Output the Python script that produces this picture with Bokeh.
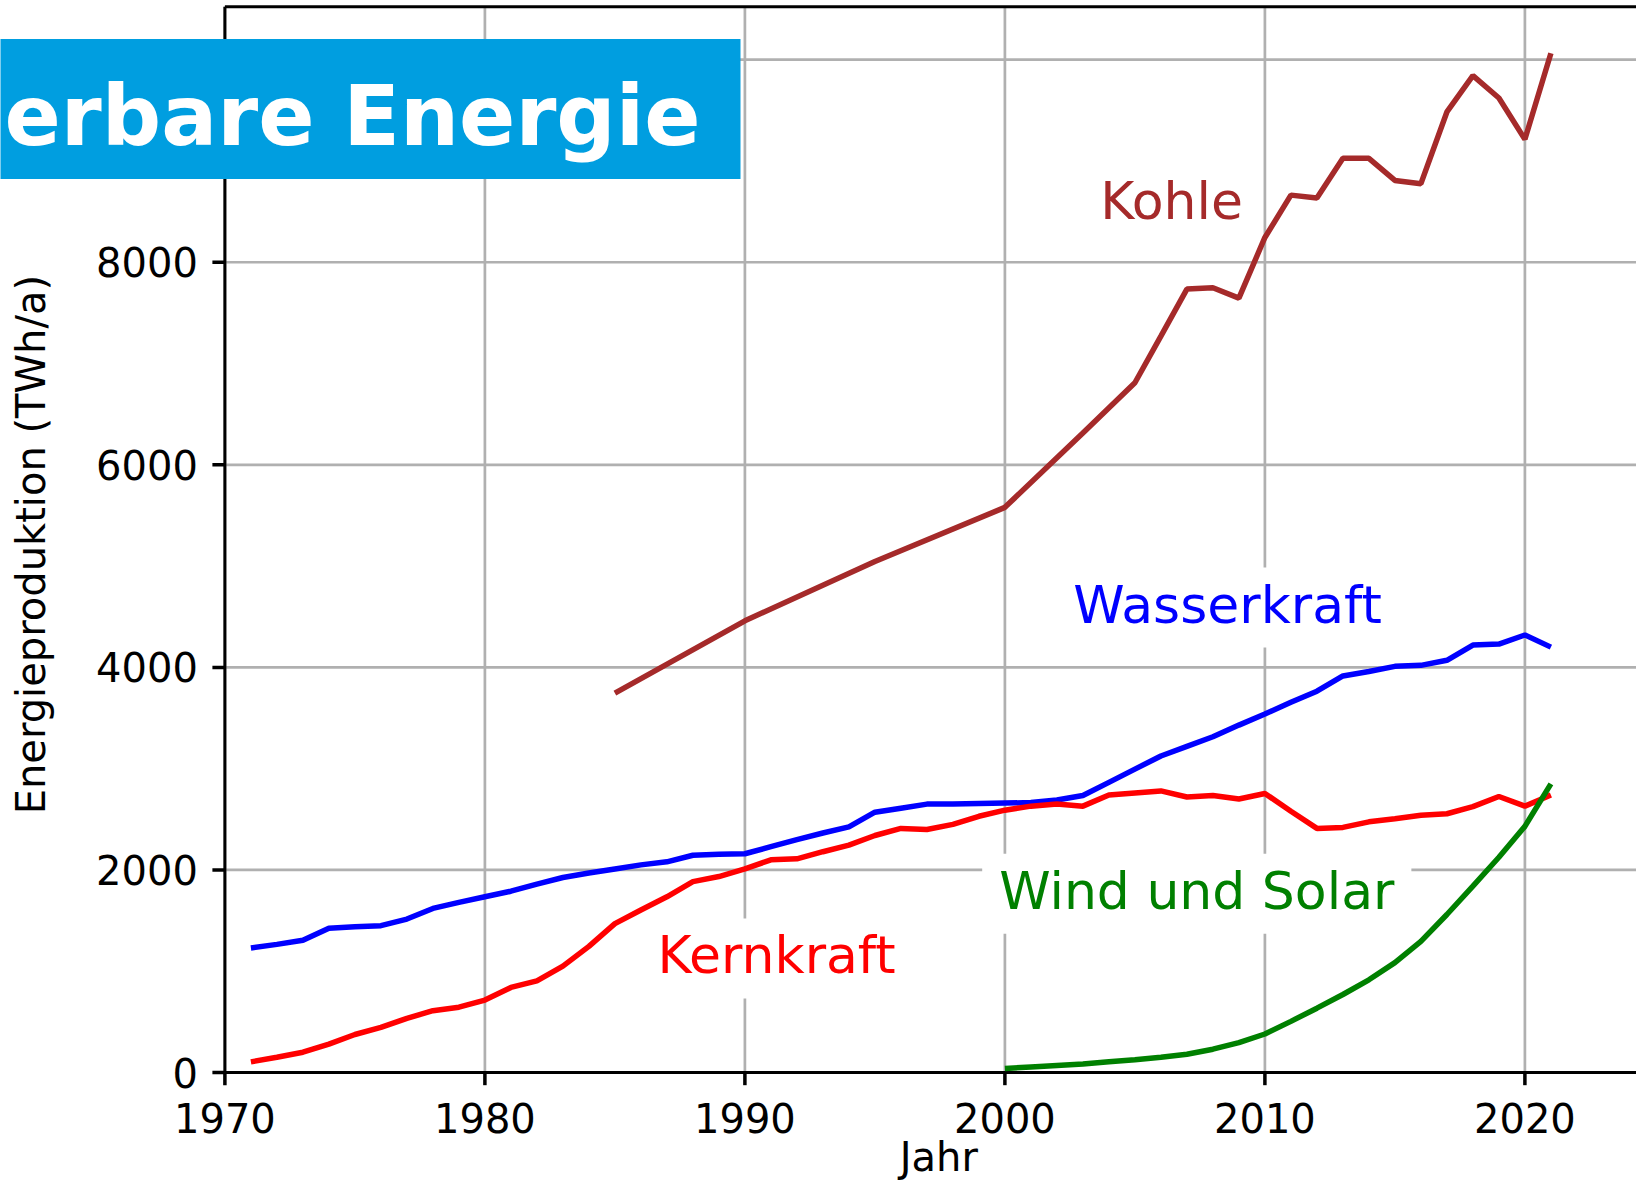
import math
from bokeh.plotting import figure
from bokeh.models import Range1d, Label
from bokeh.core.properties import value
from bokeh.embed import file_html
from bokeh.resources import INLINE

# ---------------- data (TWh/a) ----------------
kohle_years = [1985, 1990, 1995, 2000, 2003, 2005, 2006, 2007, 2008, 2009, 2010,
               2011, 2012, 2013, 2014, 2015, 2016, 2017, 2018, 2019, 2020, 2021]
kohle_twh = [3745, 4460, 5045, 5580, 6315, 6810, 7270, 7735, 7748, 7646, 8245,
             8663, 8634, 9026, 9026, 8808, 8776, 9484, 9842, 9622, 9214, 10063]

years = list(range(1971, 2022))
wasser_twh = [1230, 1265, 1305, 1425, 1440, 1450, 1515, 1620, 1680, 1735,
              1790, 1860, 1925, 1970, 2010, 2050, 2080, 2145, 2155, 2160,
              2230, 2300, 2365, 2425, 2570, 2610, 2650, 2650, 2655, 2660,
              2665, 2690, 2735, 2865, 2995, 3125, 3220, 3315, 3430, 3540,
              3655, 3765, 3915, 3960, 4010, 4020, 4070, 4220, 4230, 4320,
              4200]
kern_twh = [105, 150, 200, 280, 375, 445, 535, 610, 645, 715,
            840, 905, 1050, 1245, 1470, 1605, 1735, 1885, 1935, 2010,
            2100, 2110, 2180, 2245, 2340, 2410, 2400, 2450, 2530, 2590,
            2630, 2650, 2630, 2740, 2760, 2780, 2720, 2735, 2700, 2755,
            2580, 2410, 2420, 2475, 2505, 2540, 2555, 2625, 2725, 2630,
            2740]

ws_years = list(range(2000, 2022))
ws_twh = [40, 55, 70, 85, 105, 125, 150, 180, 230, 295, 380,
          505, 635, 770, 915, 1085, 1295, 1560, 1840, 2125, 2430, 2850]

x_ticks = [1970, 1980, 1990, 2000, 2010, 2020]
x_tick_labels = [str(v) for v in x_ticks]
y_ticks = [0, 2000, 4000, 6000, 8000, 10000]
y_tick_labels = [str(v) for v in y_ticks]
x_label = "Jahr"
y_label = "Energieproduktion (TWh/a)"

# series labels: (text, x, y, color)
series_labels = [
    ("Kohle", 2006.41, 8578, "#a52a2a"),
    ("Wasserkraft", 2008.56, 4590, "#0000ff"),
    ("Wind und Solar", 2007.38, 1765, "#008000"),
    ("Kernkraft", 1991.22, 1126, "#ff0000"),
]
banner_text = "erbare Energie"

# ---------------- geometry (pixels -> data) ----------------
W, H = 1636, 1180
PX_PER_YEAR = 26.0
PX_PER_TWH = 202.56 / 2000.0
SPINE_X_PX = 224.4       # left spine, from canvas left
ZERO_Y_PX = 1072.0       # x axis, from canvas top
TOP_Y_PX = 6.3           # top spine, from canvas top

x_start = 1970 - SPINE_X_PX / PX_PER_YEAR
x_end = x_start + W / PX_PER_YEAR
y_start = -(H - ZERO_Y_PX) / PX_PER_TWH
y_end = ZERO_Y_PX / PX_PER_TWH
y_top = (ZERO_Y_PX - TOP_Y_PX) / PX_PER_TWH

def px_x(px):   # horizontal pixel distance -> years
    return px / PX_PER_YEAR

def px_y(px):   # vertical pixel distance -> TWh
    return px / PX_PER_TWH

FONT = "DejaVu Sans"
AX_FS = "40px"
GRID_C = "#b0b0b0"

p = figure(width=W, height=H, output_backend="svg", toolbar_location=None,
           x_range=Range1d(x_start, x_end), y_range=Range1d(y_start, y_end),
           x_axis_type=None, y_axis_type=None,
           min_border_left=0, min_border_right=0,
           min_border_top=0, min_border_bottom=0)
p.outline_line_color = None
p.background_fill_color = "white"
p.border_fill_color = "white"

nx, ny = len(x_ticks), len(y_ticks)

# grid lines
p.segment(x0=[1970] * ny, y0=y_ticks, x1=[x_end] * ny, y1=y_ticks,
          line_color=GRID_C, line_width=2.7, level="image")
p.segment(x0=x_ticks, y0=[0] * nx, x1=x_ticks, y1=[y_top] * nx,
          line_color=GRID_C, line_width=2.7, level="image")

# spines
p.segment(x0=[1970, 1970, 1970], y0=[0, 0, y_top],
          x1=[1970, x_end, x_end], y1=[y_top, 0, y_top],
          line_color="black", line_width=3)

# ticks
p.segment(x0=[1970 - px_x(12.5)] * ny, y0=y_ticks, x1=[1970] * ny, y1=y_ticks,
          line_color="black", line_width=3.5)
p.segment(x0=x_ticks, y0=[0] * nx, x1=x_ticks, y1=[-px_y(12.7)] * nx,
          line_color="black", line_width=3.5)

# tick labels
p.text(x=[1970] * ny, y=y_ticks, text=y_tick_labels, x_offset=-27,
       text_align="right", text_baseline="middle", text_color="black",
       text_font=value(FONT), text_font_size=AX_FS)
p.text(x=x_ticks, y=[-px_y(45.3)] * nx, text=x_tick_labels,
       text_align="center", text_baseline="middle", text_color="black",
       text_font=value(FONT), text_font_size=AX_FS)

# axis labels
p.text(x=[1970 + px_x(938.3 - SPINE_X_PX)], y=[-px_y(1156 - ZERO_Y_PX)], text=[x_label],
       text_align="center", text_baseline="middle", text_color="black",
       text_font=value(FONT), text_font_size=AX_FS)
p.text(x=[1970], y=[5212], text=[y_label], x_offset=-193.5, angle=math.pi / 2,
       text_align="center", text_baseline="middle", text_color="black",
       text_font=value(FONT), text_font_size=AX_FS)

# data
LW = 5.5
p.line(kohle_years, kohle_twh, line_color="#a52a2a", line_width=LW)
p.line(years, wasser_twh, line_color="#0000ff", line_width=LW)
p.line(years, kern_twh, line_color="#ff0000", line_width=LW)
p.line(ws_years, ws_twh, line_color="#008000", line_width=LW)

for txt, lx, ly, col in series_labels:
    p.add_layout(Label(x=lx, y=ly, text=txt, text_color=col,
                       text_font=FONT, text_font_size="52px",
                       text_align="center", text_baseline="middle",
                       background_fill_color="white", level="underlay",
                       padding=dict(left=17, right=17, top=7, bottom=13)))

# banner (title cut at the left edge of the picture)
p.add_layout(Label(x=1970 + px_x(740 - SPINE_X_PX), y=(ZERO_Y_PX - 108.5) / PX_PER_TWH,
                   text=banner_text, text_color="white",
                   text_font=FONT, text_font_style="bold", text_font_size="83px",
                   text_align="right", text_baseline="middle",
                   background_fill_color="#009ee0",
                   padding=dict(left=14, right=40, top=29, bottom=14)))

open("out.html", "w").write(file_html(p, INLINE))
